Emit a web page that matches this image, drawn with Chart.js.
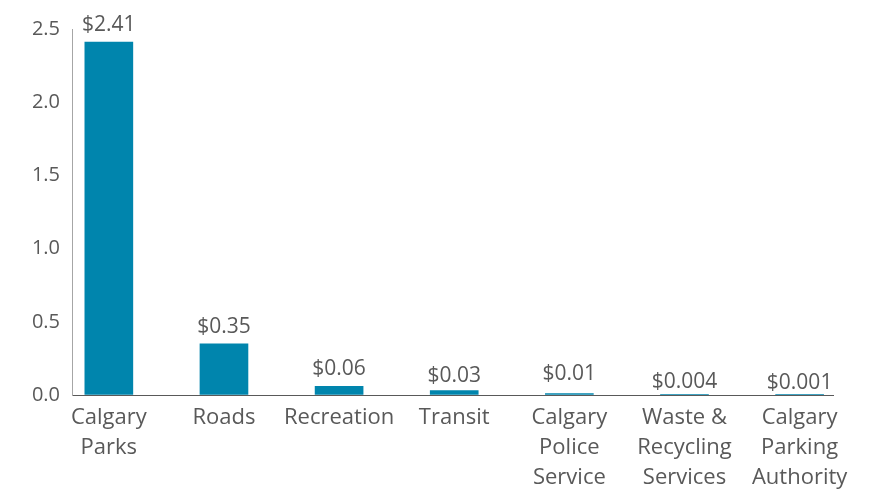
<!DOCTYPE html>
<html>
<head>
<meta charset="utf-8">
<script src="https://cdn.jsdelivr.net/npm/chart.js@4"></script>
<style>
  html, body { margin: 0; padding: 0; background: #fff; }
</style>
</head>
<body>
<canvas id="bars" width="879" height="492"></canvas>
<script>
// Cost per unit by service
var categories = [
    ['Calgary', 'Parks'],
    ['Roads'],
    ['Recreation'],
    ['Transit'],
    ['Calgary', 'Police', 'Service'],
    ['Waste &', 'Recycling', 'Services'],
    ['Calgary', 'Parking', 'Authority']
];
var values = [2.41, 0.35, 0.06, 0.03, 0.01, 0.004, 0.001];
var yTicks = [0, 0.5, 1.0, 1.5, 2.0, 2.5];

var textGrey = '#595959';
var barBlue = '#0085ad';

// dollar labels over each bar
var valueLabels = {
    id: 'valueLabels',
    afterDatasetsDraw: function (chart, args, opts) {
        var ctx = chart.ctx;
        var meta = chart.getDatasetMeta(0);
        ctx.save();
        ctx.font = '21px "Open Sans"';
        ctx.fillStyle = textGrey;
        ctx.textAlign = 'center';
        ctx.textBaseline = 'alphabetic';
        meta.data.forEach(function (bar, i) {
            var nudge = opts.nudge[i] || 0;
            ctx.fillText('$' + values[i], bar.x, bar.y - 11 + nudge);
        });
        ctx.restore();
    }
};

var ctx = document.getElementById('bars').getContext('2d');
var chart = new Chart(ctx, {
    type: 'bar',
    data: {
        datasets: [{
            data: values.map(function (v, i) { return { x: i, y: v }; }),
            backgroundColor: barBlue,
            barThickness: 48
        }]
    },
    options: {
        responsive: false,
        animation: false,
        maintainAspectRatio: false,
        layout: { padding: { top: 29, right: 46, left: 0, bottom: 0 } },
        plugins: {
            legend: { display: false },
            tooltip: { enabled: false },
            valueLabels: { nudge: [0, 0, 0, 2, -3, 5, 5] }
        },
        scales: {
            x: {
                type: 'linear',
                offset: false,
                min: -0.32,
                max: 6.29,
                afterBuildTicks: function (s) {
                    s.ticks = categories.map(function (c, i) { return { value: i }; });
                },
                afterFit: function (s) {
                    s.height = 97;
                    s.paddingLeft = 0;
                    s.paddingRight = 0;
                },
                grid: { drawOnChartArea: false, drawTicks: false },
                border: { display: true, color: '#595959', width: 1 },
                ticks: {
                    autoSkip: false,
                    maxRotation: 0,
                    padding: 8,
                    color: textGrey,
                    font: { family: 'Open Sans', size: 22, lineHeight: 30 / 22 },
                    callback: function (v) { return categories[v]; }
                }
            },
            y: {
                min: 0,
                max: 2.5,
                afterBuildTicks: function (s) {
                    s.ticks = yTicks.map(function (t) { return { value: t }; });
                },
                afterFit: function (s) {
                    s.width = 72;
                    s.paddingTop = 0;
                    s.paddingBottom = 0;
                },
                grid: { drawOnChartArea: false, drawTicks: false },
                border: { display: true, color: '#a6a6a6', width: 1 },
                ticks: {
                    padding: 12,
                    color: textGrey,
                    font: { family: 'Open Sans', size: 20 },
                    callback: function (v) { return v.toFixed(1); }
                }
            }
        }
    },
    plugins: [valueLabels]
});
</script>
</body>
</html>
